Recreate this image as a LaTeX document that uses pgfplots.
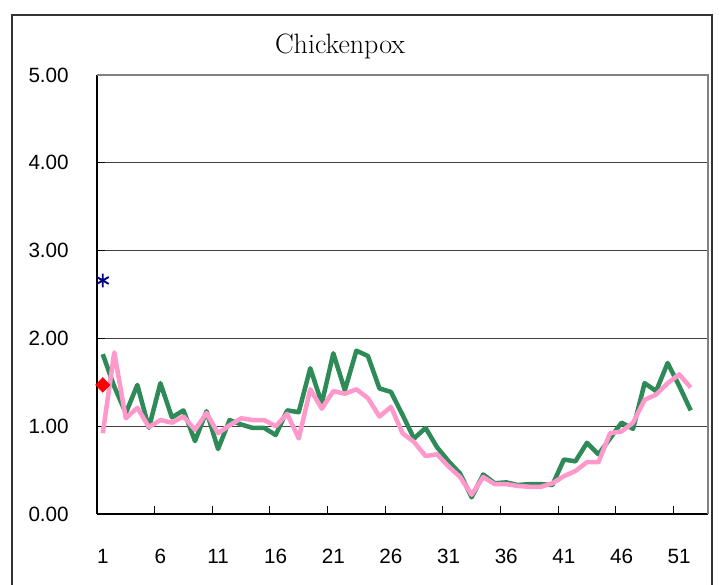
\documentclass[border=0pt]{standalone}
\usepackage{fontspec}
\usepackage{pgfplots}
\pgfplotsset{compat=1.18}
\newfontfamily\arialfont{Liberation Sans}
\definecolor{chgreen}{RGB}{46,139,87}
\definecolor{chpink}{RGB}{255,153,204}
\definecolor{chnavy}{RGB}{0,0,128}
\begin{document}
\begin{tikzpicture}[x=0.75pt,y=0.75pt]
\begin{axis}[
  scale only axis, width=458.25pt, height=329.25pt,
  xmin=0.5, xmax=53.5, ymin=0, ymax=5,
  axis x line*=bottom, axis y line*=left,
  axis line style={-, black, line width=1.2pt},
  xtick={5.5,10.5,15.5,20.5,25.5,30.5,35.5,40.5,45.5,50.5},
  xticklabels={},
  extra x ticks={1,6,11,16,21,26,31,36,41,46,51},
  extra x tick labels={1,6,11,16,21,26,31,36,41,46,51},
  extra x tick style={major tick length=0pt},
  ytick={0,1,2,3,4,5},
  yticklabels={0.00,1.00,2.00,3.00,4.00,5.00},
  major tick length=6pt,
  tick align=inside,
  tick style={black, line width=0.8pt},
  ymajorgrids,
  grid style={black!75, line width=0.7pt},
  ticklabel style={font=\arialfont\fontsize{15.5}{18}\selectfont, inner sep=0pt},
  yticklabel shift=21pt,
  xticklabel shift=26pt,
  clip=false,
]
\coordinate (O) at (rel axis cs:0,0);
\draw[gray, line width=1.2pt] (rel axis cs:0,1) -- (rel axis cs:1,1) -- (rel axis cs:1,0);
\addplot[chgreen, line width=3.4pt, line join=round, mark=none] coordinates {
(1,1.82) (2,1.45) (3,1.15) (4,1.47) (5,0.98) (6,1.49) (7,1.10) (8,1.18) (9,0.83) (10,1.17)
(11,0.74) (12,1.07) (13,1.02) (14,0.98) (15,0.98) (16,0.90) (17,1.18) (18,1.16) (19,1.66) (20,1.26)
(21,1.83) (22,1.41) (23,1.86) (24,1.80) (25,1.43) (26,1.39) (27,1.13) (28,0.86) (29,0.98) (30,0.76)
(31,0.60) (32,0.46) (33,0.19) (34,0.45) (35,0.35) (36,0.36) (37,0.33) (38,0.34) (39,0.34) (40,0.33)
(41,0.62) (42,0.60) (43,0.81) (44,0.68) (45,0.86) (46,1.04) (47,0.97) (48,1.49) (49,1.40) (50,1.72)
(51,1.46) (52,1.18)};
\addplot[chpink, line width=3.4pt, line join=round, mark=none] coordinates {
(1,0.92) (2,1.84) (3,1.09) (4,1.21) (5,0.99) (6,1.07) (7,1.04) (8,1.11) (9,0.96) (10,1.15)
(11,0.92) (12,1.01) (13,1.09) (14,1.07) (15,1.07) (16,1.00) (17,1.14) (18,0.86) (19,1.42) (20,1.20)
(21,1.40) (22,1.37) (23,1.42) (24,1.32) (25,1.11) (26,1.22) (27,0.92) (28,0.82) (29,0.66) (30,0.68)
(31,0.54) (32,0.42) (33,0.22) (34,0.42) (35,0.34) (36,0.34) (37,0.32) (38,0.31) (39,0.31) (40,0.35)
(41,0.43) (42,0.49) (43,0.59) (44,0.59) (45,0.92) (46,0.94) (47,1.04) (48,1.30) (49,1.36) (50,1.49)
(51,1.59) (52,1.44)};
\addplot[only marks, mark=diamond*, mark size=5.5pt, red, mark options={fill=red, draw=red, xscale=1.3}] coordinates {(1,1.47)};
\addplot[only marks, mark=asterisk, mark size=5.2pt, chnavy, mark options={line width=1.4pt}] coordinates {(1,2.66)};
\end{axis}
\draw[line width=1.5pt, black!80] ([shift={(-85,-71)}]O) -- ([shift={(-85,499)}]O) -- ([shift={(615,499)}]O) -- ([shift={(615,-71)}]O);
\node[font=\fontsize{21}{25}\selectfont] at ([shift={(243,468)}]O) {Chickenpox};
\pgfresetboundingbox
\path[use as bounding box] ([shift={(-97,-71)}]O) rectangle ([shift={(624,514)}]O);
\end{tikzpicture}
\end{document}
